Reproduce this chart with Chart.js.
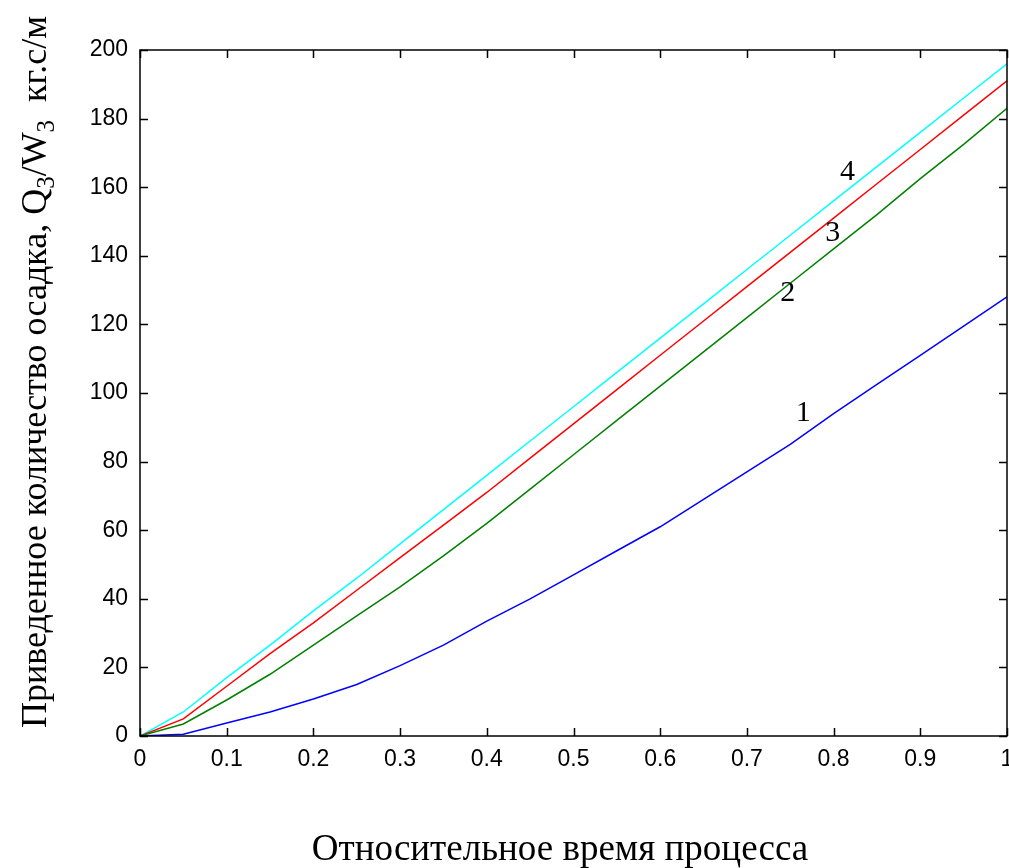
<!DOCTYPE html>
<html>
<head>
<meta charset="utf-8">
<script src="https://cdn.jsdelivr.net/npm/chart.js@4.4.1/dist/chart.umd.min.js"></script>
<style>
  html, body { margin: 0; padding: 0; background: #fff; }
  #wrap { width: 1009px; height: 868px; position: relative; }
</style>
</head>
<body>
<div id="wrap"><canvas id="chart"></canvas></div>
<script>
// relative process time
const timeValues = [0, 0.05, 0.1, 0.15, 0.2, 0.25, 0.3, 0.35, 0.4, 0.45, 0.5,
                    0.55, 0.6, 0.65, 0.7, 0.75, 0.8, 0.85, 0.9, 0.95, 1];
// curve 1..4
const curve1 = [0, 0.5, 3.8, 7, 10.8, 15, 20.5, 26.5, 33.5, 40, 47, 54, 61, 69, 77, 85, 94, 102.5, 111, 119.5, 128];
const curve2 = [0, 3.5, 10.5, 18, 26.5, 35, 43.5, 52.5, 62, 72, 82, 92, 102, 112, 122, 132, 142, 152, 162.5, 172.5, 183];
const curve3 = [0, 5, 14.5, 24, 33, 42.5, 52, 61.5, 71, 81, 91, 101, 111, 121, 131, 141, 151, 161, 171, 181, 191];
const curve4 = [0, 7, 17, 26.5, 36.5, 46, 56, 66, 76, 86, 96, 106, 116, 126, 136, 146, 156, 166, 176, 186, 196];

const xTicks = [0, 0.1, 0.2, 0.3, 0.4, 0.5, 0.6, 0.7, 0.8, 0.9, 1];
const yTicks = [0, 20, 40, 60, 80, 100, 120, 140, 160, 180, 200];

// curve number labels, in data coords
const curveLabels = [
    {text: "4", x: 0.816, y: 164.5},
    {text: "3", x: 0.799, y: 146.5},
    {text: "2", x: 0.747, y: 129},
    {text: "1", x: 0.765, y: 94},
];

function toPoints(ys){
    return ys.map(function(y, i){ return {x: timeValues[i], y: y}; });
}

const tickFont = {family: "'Liberation Sans', Arial, sans-serif", size: 23};
const serif = "'Liberation Serif', 'Times New Roman', serif";

let boxPlugin = {
    id: "box",
    afterDraw: function(chart){
        let ctx = chart.ctx;
        let a = chart.chartArea;
        let xs = chart.scales.x, ys = chart.scales.y;
        ctx.save();
        ctx.strokeStyle = "#000";
        ctx.lineWidth = 1.5;
        ctx.strokeRect(a.left, a.top, a.right - a.left, a.bottom - a.top);
        //inner ticks on all sides
        let len = 8;
        ctx.beginPath();
        xTicks.forEach(function(t){
            let px = Math.round(xs.getPixelForValue(t)) + 0.5;
            ctx.moveTo(px, a.bottom); ctx.lineTo(px, a.bottom - len);
            ctx.moveTo(px, a.top); ctx.lineTo(px, a.top + len);
        });
        yTicks.forEach(function(t){
            let py = Math.round(ys.getPixelForValue(t)) + 0.5;
            ctx.moveTo(a.left, py); ctx.lineTo(a.left + len, py);
            ctx.moveTo(a.right, py); ctx.lineTo(a.right - len, py);
        });
        ctx.stroke();

        //curve numbers
        ctx.fillStyle = "#000";
        ctx.font = "30px " + serif;
        ctx.textAlign = "center";
        ctx.textBaseline = "middle";
        curveLabels.forEach(function(l){
            ctx.fillText(l.text, xs.getPixelForValue(l.x), ys.getPixelForValue(l.y));
        });

        //x title
        ctx.font = "37px " + serif;
        ctx.textBaseline = "alphabetic";
        ctx.fillText("Относительное время процесса", 560, 860);

        //y title with subscripts, rotated
        let parts = [
            {t: "Приведенное количество осадка, Q", sub: false},
            {t: "3", sub: true},
            {t: "/W", sub: false},
            {t: "3", sub: true},
            {t: "  кг.с/м", sub: false},
        ];
        let big = "36px " + serif, small = "25px " + serif;
        let total = 0;
        parts.forEach(function(p){
            ctx.font = p.sub ? small : big;
            p.w = ctx.measureText(p.t).width;
            total += p.w;
        });
        ctx.translate(46, 372);
        ctx.rotate(-Math.PI / 2);
        ctx.textAlign = "left";
        let x = -total / 2;
        parts.forEach(function(p){
            ctx.font = p.sub ? small : big;
            ctx.fillText(p.t, x, p.sub ? 8 : 0);
            x += p.w;
        });
        ctx.restore();
    }
};

function mkSet(label, data, color){
    return {
        label: label,
        data: toPoints(data),
        borderColor: color,
        backgroundColor: color,
        borderWidth: 1.5,
        pointRadius: 0,
        tension: 0,
        fill: false,
    };
}

new Chart(document.getElementById("chart"), {
    type: "line",
    data: {
        datasets: [
            mkSet("1", curve1, "#0000ff"),
            mkSet("2", curve2, "#008000"),
            mkSet("3", curve3, "#ff0000"),
            mkSet("4", curve4, "#00ffff"),
        ]
    },
    options: {
        responsive: true,
        maintainAspectRatio: false,
        animation: false,
        layout: {padding: {left: 0, right: 2, top: 50, bottom: 0}},
        plugins: {legend: {display: false}, tooltip: {enabled: false}},
        scales: {
            x: {
                type: "linear",
                min: 0, max: 1,
                afterBuildTicks: function(scale){
                    scale.ticks = xTicks.map(function(v){ return {value: v}; });
                },
                afterFit: function(scale){
                    scale.height = 132;
                    scale.paddingLeft = 0;
                    scale.paddingRight = 0;
                },
                grid: {display: false, drawTicks: false},
                border: {display: false},
                ticks: {
                    color: "#000",
                    font: tickFont,
                    padding: 10,
                    maxRotation: 0,
                    autoSkip: false,
                    callback: function(v){ return String(v); },
                },
            },
            y: {
                min: 0, max: 200,
                afterBuildTicks: function(scale){
                    scale.ticks = yTicks.map(function(v){ return {value: v}; });
                },
                afterFit: function(scale){
                    scale.width = 140;
                    scale.paddingTop = 0;
                    scale.paddingBottom = 0;
                },
                grid: {display: false, drawTicks: false},
                border: {display: false},
                ticks: {
                    color: "#000",
                    font: tickFont,
                    padding: 12,
                    autoSkip: false,
                    callback: function(v){ return String(v); },
                },
            }
        }
    },
    plugins: [boxPlugin]
});
</script>
</body>
</html>
